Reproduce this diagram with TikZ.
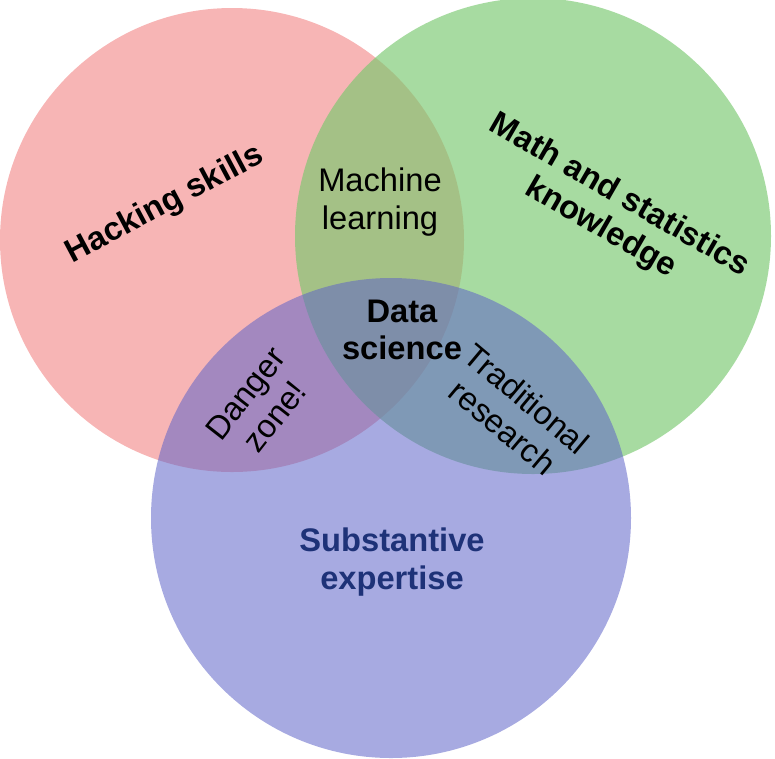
\documentclass[tikz,border=0pt]{standalone}
\usepackage{fontspec}
\setmainfont{Liberation Sans}
\definecolor{hackred}{RGB}{240,120,120}
\definecolor{mathgreen}{RGB}{120,200,110}
\definecolor{subblue}{RGB}{95,100,200}
\definecolor{subtext}{RGB}{30,50,120}
\begin{document}
\begin{tikzpicture}[x=0.75pt,y=-0.75pt,
  venn/.style={fill opacity=0.55,draw=none},
  lab/.style={font=\fontsize{24.5}{28}\selectfont\bfseries,align=center,text=black},
  sublab/.style={font=\fontsize{24.5}{28}\selectfont,align=center,text=black}]
\useasboundingbox (0,0) rectangle (775,758);
% the three sets
\fill[venn,fill=hackred]   (232,240) circle (232);
\fill[venn,fill=mathgreen,fill opacity=0.65] (533,236) circle (238);
\fill[venn,fill=subblue]   (391,518) circle (240);
% labels
\node[lab,rotate=28]  (hack) at (165,205) {Hacking skills};
\node[lab,rotate=-30] (math) at (610,212) {Math and statistics\\knowledge};
\node[lab,text=subtext] (subst) at (392,562) {Substantive\\expertise};
\node[sublab] (ml) at (380,202) {Machine\\learning};
\node[lab] (ds) at (402,330) {Data\\science};
\node[sublab,rotate=52] (danger) at (260,405) {Danger\\zone!};
\node[sublab,rotate=-40] (trad) at (515,413) {Traditional\\research};
\end{tikzpicture}
\end{document}
